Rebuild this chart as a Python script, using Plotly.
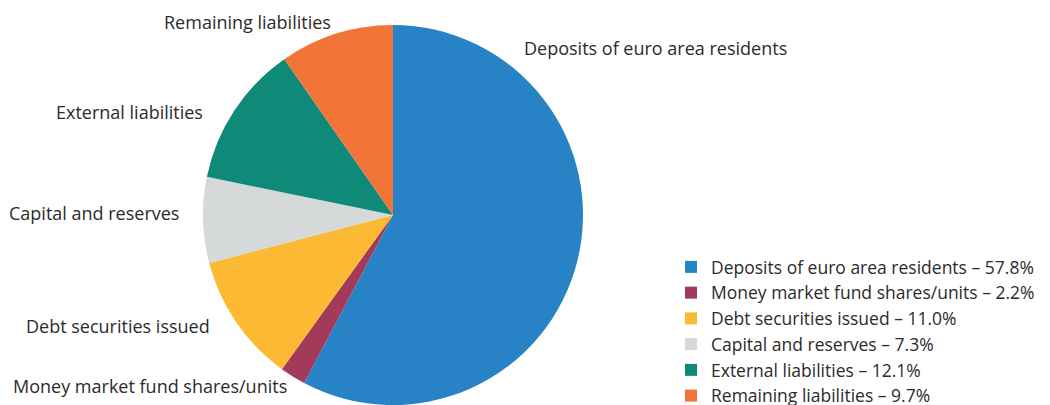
import plotly.graph_objects as go

categories = [
    "Deposits of euro area residents",
    "Money market fund shares/units",
    "Debt securities issued",
    "Capital and reserves",
    "External liabilities",
    "Remaining liabilities",
]
shares = [57.8, 2.2, 11.0, 7.3, 12.1, 9.7]
colors = ["#2783C6", "#A43A5A", "#FBB934", "#D6D9D9", "#108A78", "#F27436"]

legend_names = [f"{c} \u2013 {v:.1f}%" for c, v in zip(categories, shares)]

# label anchor positions in page pixels (left edge, vertical centre)
label_pos = {
    "Deposits of euro area residents": (525, 48),
    "Money market fund shares/units": (14, 386),
    "Debt securities issued": (27, 326),
    "Capital and reserves": (10, 213),
    "External liabilities": (57, 112),
    "Remaining liabilities": (165, 22),
}

OFF = 8  # default body margin of the html page
W, H = 1050 - OFF, 405 - OFF
FONT = "'Open Sans', Lato, sans-serif"
FS = 18
LFS = 17.5
TXT = "#2b2b2b"


def px_x(x):
    return (x - OFF) / W


def px_y(y):
    return 1 - (y - OFF) / H


fig = go.Figure(
    go.Pie(
        labels=legend_names,
        values=shares,
        marker=dict(colors=colors, line=dict(width=0)),
        sort=False,
        direction="clockwise",
        rotation=0,
        textinfo="none",
        hoverinfo="label",
        domain=dict(x=[px_x(203), px_x(583)], y=[0, px_y(25)]),
    )
)

for c in categories:
    lx, ly = label_pos[c]
    fig.add_annotation(
        x=px_x(lx), y=px_y(ly), xref="paper", yref="paper",
        text=c, showarrow=False, xanchor="left", yanchor="middle",
        xshift=-3,
        font=dict(family=FONT, size=FS, color=TXT),
    )

fig.update_layout(
    width=W, height=H,
    margin=dict(l=0, r=0, t=0, b=0, autoexpand=False),
    paper_bgcolor="white",
    plot_bgcolor="white",
    font=dict(family=FONT, size=FS, color=TXT),
    legend=dict(
        x=px_x(671), y=px_y(249), xanchor="left", yanchor="top",
        font=dict(family=FONT, size=LFS, color=TXT),
        tracegroupgap=0, itemclick=False,
    ),
    showlegend=True,
)

fig.write_html("out.html")
